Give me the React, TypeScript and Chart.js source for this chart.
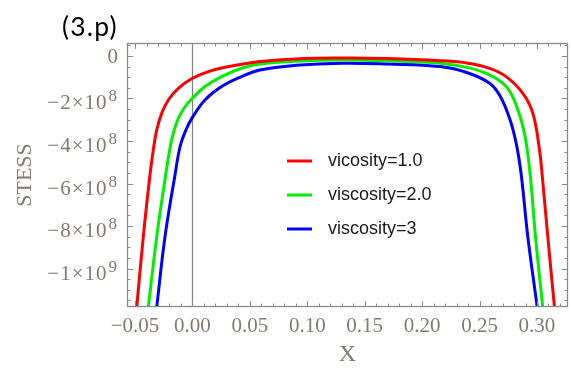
import { useEffect, useRef } from 'react';
import { Chart, registerables } from 'chart.js';

Chart.register(...registerables);

const seriesLabels = ['vicosity=1.0', 'viscosity=2.0', 'viscosity=3'];
const seriesColors = ['#ff0000', '#00ee00', '#0000ff'];

const redX = [-0.0485, -0.0428, -0.037, -0.0341, -0.0311, -0.0268, -0.021, -0.0123, 0, 0.0137, 0.0283, 0.0572, 0.09, 0.13, 0.17, 0.2157, 0.24, 0.2587, 0.2732, 0.2877, 0.2963, 0.3022, 0.3045, 0.3094, 0.3152];
const redY = [-1.181e9, -8.5e8, -5.6e8, -4.42e8, -3.48e8, -2.7e8, -2.07e8, -1.52e8, -1.05e8, -7.4e7, -5.3e7, -2.7e7, -1.4e7, -1.0e7, -1.2e7, -2.2e7, -3.4e7, -5.8e7, -9.7e7, -1.76e8, -2.68e8, -4.42e8, -5.6e8, -8.5e8, -1.181e9];

const greenX = [-0.0384, -0.0311, -0.0233, -0.0181, -0.0129, -0.0065, 0, 0.0109, 0.0254, 0.0428, 0.0587, 0.09, 0.13, 0.17, 0.2157, 0.24, 0.2587, 0.2732, 0.2819, 0.2891, 0.2941, 0.2987, 0.305];
const greenY = [-1.181e9, -8.5e8, -5.6e8, -3.95e8, -3.01e8, -2.39e8, -1.99e8, -1.44e8, -9.7e7, -5.8e7, -3.8e7, -2.5e7, -1.9e7, -2.3e7, -3.4e7, -5.5e7, -8.9e7, -1.44e8, -2.31e8, -3.64e8, -5.6e8, -8.5e8, -1.181e9];

const blueX = [-0.0311, -0.0239, -0.0152, -0.0105, -0.005, 0, 0.0109, 0.0254, 0.0428, 0.0587, 0.09, 0.13, 0.17, 0.2157, 0.24, 0.2587, 0.2674, 0.2761, 0.2819, 0.2863, 0.292, 0.3002];
const blueY = [-1.181e9, -8.5e8, -5.6e8, -4.2e8, -3.4e8, -2.89e8, -2.07e8, -1.44e8, -9.7e7, -6.6e7, -4.4e7, -3.4e7, -3.8e7, -5.0e7, -8.0e7, -1.28e8, -1.84e8, -2.93e8, -4.11e8, -5.6e8, -8.5e8, -1.181e9];

const xTickValues = [-0.05, 0, 0.05, 0.1, 0.15, 0.2, 0.25, 0.3];
const xTickLabels = ['\u22120.05', '0.00', '0.05', '0.10', '0.15', '0.20', '0.25', '0.30'];
const yTickValues = [-1e9, -8e8, -6e8, -4e8, -2e8, 0];
const yTickLabels = ['\u22121\u00d710^9', '\u22128\u00d710^8', '\u22126\u00d710^8', '\u22124\u00d710^8', '\u22122\u00d710^8', '0'];

const xTitle = 'X';
const yTitle = 'STESS';
const panelTitle = '(3.p)';

const labelColor = '#857a6e';
const frameColor = '#8a8a8a';
const serif = '"Liberation Serif", "DejaVu Serif", serif';

const framePlugin = {
  id: 'mmaFrame',
  beforeDatasetsDraw(chart: any) {
    const { ctx, chartArea: a, scales } = chart;
    const px = Math.round(scales.x.getPixelForValue(0)) + 0.5;
    ctx.save();
    ctx.strokeStyle = '#808080';
    ctx.lineWidth = 1.2;
    ctx.beginPath();
    ctx.moveTo(px, a.top);
    ctx.lineTo(px, a.bottom);
    ctx.stroke();
    ctx.restore();
  },
  afterDraw(chart: any) {
    const { ctx, chartArea: a, scales } = chart;
    const xs = scales.x;
    const ys = scales.y;
    ctx.save();
    ctx.strokeStyle = frameColor;
    ctx.lineWidth = 1.3;
    ctx.strokeRect(a.left + 0.5, a.top + 0.5, a.right - a.left - 1, a.bottom - a.top - 1);
    ctx.lineWidth = 1;
    ctx.beginPath();
    const xStep = 0.01;
    for (let i = Math.ceil(xs.min / xStep); i * xStep <= xs.max + 1e-9; i++) {
      const p = Math.round(xs.getPixelForValue(i * xStep)) + 0.5;
      const len = i % 5 === 0 ? 6 : 3.5;
      ctx.moveTo(p, a.bottom);
      ctx.lineTo(p, a.bottom - len);
      ctx.moveTo(p, a.top);
      ctx.lineTo(p, a.top + len);
    }
    const yStep = 5e7;
    for (let i = Math.ceil(ys.min / yStep); i * yStep <= ys.max + 1; i++) {
      const p = Math.round(ys.getPixelForValue(i * yStep)) + 0.5;
      const len = i % 4 === 0 ? 6 : 3.5;
      ctx.moveTo(a.left, p);
      ctx.lineTo(a.left + len, p);
      ctx.moveTo(a.right, p);
      ctx.lineTo(a.right - len, p);
    }
    ctx.stroke();

    // y tick labels with superscript exponents
    ctx.fillStyle = labelColor;
    ctx.textBaseline = 'alphabetic';
    const rightEdge = a.left - 10;
    yTickValues.forEach((v, i) => {
      const p = ys.getPixelForValue(v);
      const [base, exp] = yTickLabels[i].split('^');
      if (exp) {
        ctx.font = `17px ${serif}`;
        (ctx as any).letterSpacing = '0px';
        const ew = ctx.measureText(exp).width;
        ctx.textAlign = 'left';
        ctx.fillText(exp, rightEdge - ew, p + 3);
        ctx.font = `21px ${serif}`;
        (ctx as any).letterSpacing = '1px';
        ctx.textAlign = 'right';
        ctx.fillText(base, rightEdge - ew - 1, p + 11);
        (ctx as any).letterSpacing = '0px';
      } else {
        ctx.font = `21px ${serif}`;
        ctx.textAlign = 'right';
        ctx.fillText(base, rightEdge + 1, p + 7);
      }
    });

    // legend
    const lx = a.left + 160;
    const ly = a.top + 118;
    ctx.font = '18px "Liberation Sans", Arial, sans-serif';
    ctx.textBaseline = 'middle';
    ctx.textAlign = 'left';
    chart.data.datasets.forEach((ds: any, i: number) => {
      const yy = ly + i * 34;
      ctx.strokeStyle = ds.borderColor;
      ctx.lineWidth = 3;
      ctx.beginPath();
      ctx.moveTo(lx, yy);
      ctx.lineTo(lx + 25, yy);
      ctx.stroke();
      ctx.fillStyle = '#1a1a1a';
      ctx.fillText(ds.label, lx + 41, yy);
    });
    ctx.restore();
  },
};

export default function App() {
  const ref = useRef<HTMLCanvasElement>(null);
  useEffect(() => {
    if (!ref.current) return;
    const mk = (xs: number[], ys: number[]) => xs.map((x, i) => ({ x, y: ys[i] }));
    const seriesData = [mk(redX, redY), mk(greenX, greenY), mk(blueX, blueY)];
    const chart = new Chart(ref.current, {
      type: 'line',
      data: {
        datasets: seriesData.map((d, i) => ({
          label: seriesLabels[i],
          data: d,
          borderColor: seriesColors[i],
          backgroundColor: seriesColors[i],
          borderWidth: 3,
          pointRadius: 0,
          fill: false,
          tension: 0.4,
        })),
      },
      options: {
        responsive: false,
        animation: false,
        layout: { padding: { top: 43, right: 3, left: 0, bottom: 0 } },
        plugins: { legend: { display: false }, tooltip: { enabled: false } },
        scales: {
          x: {
            type: 'linear',
            min: -0.057,
            max: 0.327,
            grid: { display: false, drawTicks: false },
            border: { display: false },
            afterBuildTicks: (s: any) => {
              s.ticks = xTickValues.map((v) => ({ value: v }));
            },
            afterFit: (s: any) => {
              s.height = 62;
            },
            ticks: {
              autoSkip: false,
              maxRotation: 0,
              padding: 7,
              color: labelColor,
              font: { family: serif, size: 21 },
              callback: (_v: any, i: number) => xTickLabels[i],
            },
            title: {
              display: true,
              text: xTitle,
              color: labelColor,
              padding: { top: 0, bottom: 0 },
              font: { family: serif, size: 24 },
            },
          },
          y: {
            type: 'linear',
            min: -1.181e9,
            max: 6.1e7,
            grid: { display: false, drawTicks: false },
            border: { display: false },
            afterBuildTicks: (s: any) => {
              s.ticks = yTickValues.map((v) => ({ value: v }));
            },
            afterFit: (s: any) => {
              s.width = 127;
            },
            ticks: { display: false },
            title: {
              display: true,
              text: yTitle,
              color: labelColor,
              padding: { top: 12, bottom: 0 },
              font: { family: serif, size: 22 },
            },
          },
        },
      },
      plugins: [framePlugin],
    } as any);
    return () => chart.destroy();
  }, []);

  return (
    <div style={{ position: 'absolute', left: 0, top: 0, width: 571, height: 369, background: '#fff' }}>
      <canvas ref={ref} width={571} height={369} style={{ display: 'block' }} />
      <div
        style={{
          position: 'absolute',
          left: 62,
          top: 13,
          fontFamily: 'Lato, "Open Sans", sans-serif',
          fontSize: 26.5,
          letterSpacing: 1.2,
          lineHeight: 1,
          color: '#000',
        }}
      >
        {panelTitle}
      </div>
    </div>
  );
}
